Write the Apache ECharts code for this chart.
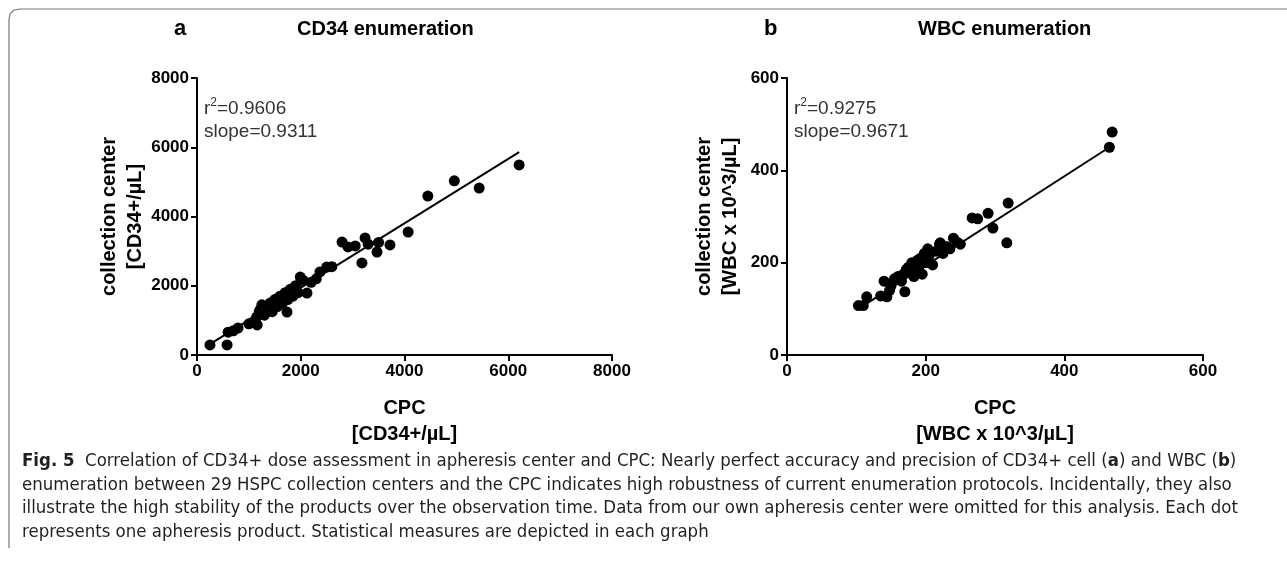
<!DOCTYPE html>
<html>
<head>
<meta charset="utf-8">
<script src="https://cdn.jsdelivr.net/npm/echarts@6/dist/echarts.min.js"></script>
<style>
  html, body { margin: 0; padding: 0; background: #fff; }
  #chart { width: 1287px; height: 564px; }
</style>
</head>
<body>
<div id="chart"></div>
<script>
// panel a: CD34+ per µL, [CPC, collection center]
const cd34Points = [
  [250, 290], [580, 290], [600, 660], [700, 700], [790, 780], [1000, 900],
  [1080, 950], [1160, 870], [1150, 1100], [1200, 1250], [1215, 1300], [1250, 1450],
  [1300, 1150], [1350, 1350], [1410, 1500], [1450, 1250], [1500, 1600], [1550, 1400],
  [1600, 1700], [1650, 1500], [1700, 1800], [1735, 1240], [1750, 1600], [1800, 1900],
  [1850, 1700], [1900, 2000], [1950, 1800], [1990, 2250], [2050, 2150], [2120, 1790],
  [2200, 2100], [2300, 2200], [2370, 2400], [2500, 2540], [2600, 2550], [2796, 3263],
  [2910, 3120], [3050, 3150], [3180, 2660], [3240, 3380], [3300, 3200], [3470, 2975],
  [3500, 3250], [3720, 3180], [4070, 3550], [4450, 4590], [4960, 5030], [5440, 4820],
  [6210, 5490]
];
const cd34Fit = [[250, 313], [6210, 5860]];
const cd34Ticks = { min: 0, max: 8000, interval: 2000 };

// panel b: WBC x 10^3 per µL
const wbcPoints = [
  [103, 107], [110, 107], [115, 126], [135, 128], [140, 160], [144, 126], [148, 140],
  [150, 150], [155, 165], [160, 170], [165, 160], [168, 175], [170, 137], [172, 185],
  [175, 190], [178, 180], [180, 200], [183, 170], [185, 195], [188, 205], [190, 185],
  [193, 210], [195, 175], [198, 220], [200, 200], [203, 230], [205, 215], [210, 195],
  [215, 225], [220, 240], [221, 243], [225, 220], [230, 235], [235, 230], [240, 253],
  [245, 245], [250, 240], [267, 297], [275, 295], [290, 307], [297, 275], [317, 243],
  [319, 329], [465, 450], [469, 483]
];
const wbcFit = [[103, 100], [465, 450]];
const wbcTicks = { min: 0, max: 600, interval: 200 };

const caption = [
  "{b|Fig. 5}  Correlation of CD34+ dose assessment in apheresis center and CPC: Nearly perfect accuracy and precision of CD34+ cell ({b|a}) and WBC ({b|b})",
  "enumeration between 29 HSPC collection centers and the CPC indicates high robustness of current enumeration protocols. Incidentally, they also",
  "illustrate the high stability of the products over the observation time. Data from our own apheresis center were omitted for this analysis. Each dot",
  "represents one apheresis product. Statistical measures are depicted in each graph"
];

const FONT = "'Liberation Sans', Arial, sans-serif";
const NARROW = "'DejaVu Sans Condensed', sans-serif";
const chart = echarts.init(document.getElementById("chart"));

function axis(ticks, gridIndex, name, isY, gap) {
  return {
    type: "value",
    gridIndex,
    min: ticks.min, max: ticks.max, interval: ticks.interval,
    name,
    nameLocation: "middle",
    nameGap: gap,
    nameMoveOverlap: false,
    nameRotate: isY ? 90 : 0,
    nameTextStyle: { color: "#000", fontFamily: FONT, fontWeight: "bold", fontSize: 20, lineHeight: 26 },
    axisLine: { show: true, onZero: false, lineStyle: { color: "#000", width: 2 } },
    axisTick: { show: true, inside: false, length: 6, lineStyle: { color: "#000", width: 2 } },
    axisLabel: { color: "#000", fontFamily: FONT, fontWeight: "bold", fontSize: 17, margin: 8,
                 formatter: v => String(v) },
    splitLine: { show: false }
  };
}

function scatter(data, i) {
  return {
    type: "scatter", xAxisIndex: i, yAxisIndex: i, data,
    symbolSize: 11, itemStyle: { color: "#000", opacity: 1 }, silent: true, z: 3
  };
}
function fit(data, i) {
  return {
    type: "line", xAxisIndex: i, yAxisIndex: i, data,
    symbol: "none", lineStyle: { color: "#000", width: 2 }, silent: true, z: 2
  };
}

const statStyle = {
  fontFamily: FONT, fontSize: 19, fill: "#333", lineHeight: 23,
  rich: { s: { fontFamily: FONT, fontSize: 12, verticalAlign: "top", fill: "#333", padding: [0, 0, 8, 0] } }
};

chart.setOption({
  backgroundColor: "#fff",
  animation: false,
  grid: [
    { left: 197, top: 78, width: 415, height: 277 },
    { left: 787, top: 78, width: 416, height: 277 }
  ],
  xAxis: [
    axis(cd34Ticks, 0, "CPC\n[CD34+/µL]", false, 40),
    axis(wbcTicks, 1, "CPC\n[WBC x 10^3/µL]", false, 40)
  ],
  yAxis: [
    axis(cd34Ticks, 0, "collection center\n[CD34+/µL]", true, 49),
    axis(wbcTicks, 1, "collection center\n[WBC x 10^3/µL]", true, 44)
  ],
  series: [
    scatter(cd34Points, 0), fit(cd34Fit, 0),
    scatter(wbcPoints, 1), fit(wbcFit, 1)
  ],
  graphic: [
    { type: "polyline", shape: { points: [[9, 548], [9, 20], [10, 14], [14, 10], [20, 9], [1287, 9]] },
      style: { stroke: "#777", lineWidth: 1.2, fill: null } },
    { type: "text", left: 174, top: 18, style: { text: "a", fontFamily: FONT, fontWeight: "bold", fontSize: 22, fill: "#000" } },
    { type: "text", left: 297, top: 19, style: { text: "CD34 enumeration", fontFamily: FONT, fontWeight: "bold", fontSize: 20, fill: "#000" } },
    { type: "text", left: 764, top: 18, style: { text: "b", fontFamily: FONT, fontWeight: "bold", fontSize: 22, fill: "#000" } },
    { type: "text", left: 918, top: 19, style: { text: "WBC enumeration", fontFamily: FONT, fontWeight: "bold", fontSize: 20, fill: "#000" } },
    { type: "text", left: 204, top: 97, style: Object.assign({ text: "r{s|2}=0.9606\nslope=0.9311" }, statStyle) },
    { type: "text", left: 794, top: 97, style: Object.assign({ text: "r{s|2}=0.9275\nslope=0.9671" }, statStyle) },
    { type: "text", x: 22, y: 450, scaleX: 1.085, style: {
        text: caption.join("\n"),
        fontFamily: NARROW, fontSize: 17, lineHeight: 23.5, fill: "#231f20",
        rich: { b: { fontFamily: NARROW, fontWeight: "bold", fontSize: 17, fill: "#231f20" } }
      } }
  ]
});
window.addEventListener("resize", () => chart.resize());
</script>
</body>
</html>
